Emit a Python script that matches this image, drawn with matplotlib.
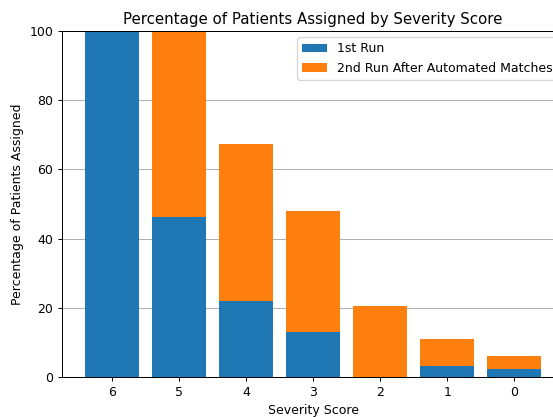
import matplotlib
matplotlib.use("Agg")
import matplotlib.pyplot as plt

# Severity scores shown left to right
scores = ["6", "5", "4", "3", "2", "1", "0"]
first_run = [100, 46.2, 22.0, 13.1, 0, 3.2, 2.2]
second_run = [0, 53.8, 45.4, 34.9, 20.6, 7.8, 3.9]

W, H, DPI = 553, 417, 90
fig = plt.figure(figsize=(W / DPI, H / DPI), dpi=DPI)
ax = fig.add_axes([62 / W, 1 - 377 / H, (564 - 62) / W, (377 - 31) / H])

ax.bar(scores, first_run, color="#1f77b4", label="1st Run", zorder=2)
ax.bar(scores, second_run, bottom=first_run, color="#ff7f0e",
       label="2nd Run After Automated Matches", zorder=2)

ax.set_ylim(0, 100)
ax.yaxis.grid(True, color="#b0b0b0", zorder=0)
ax.set_axisbelow(True)
ax.set_title("Percentage of Patients Assigned by Severity Score")
ax.set_xlabel("Severity Score")
ax.set_ylabel("Percentage of Patients Assigned")
ax.legend(loc="upper right")

fig.savefig("out.png", dpi=DPI)
